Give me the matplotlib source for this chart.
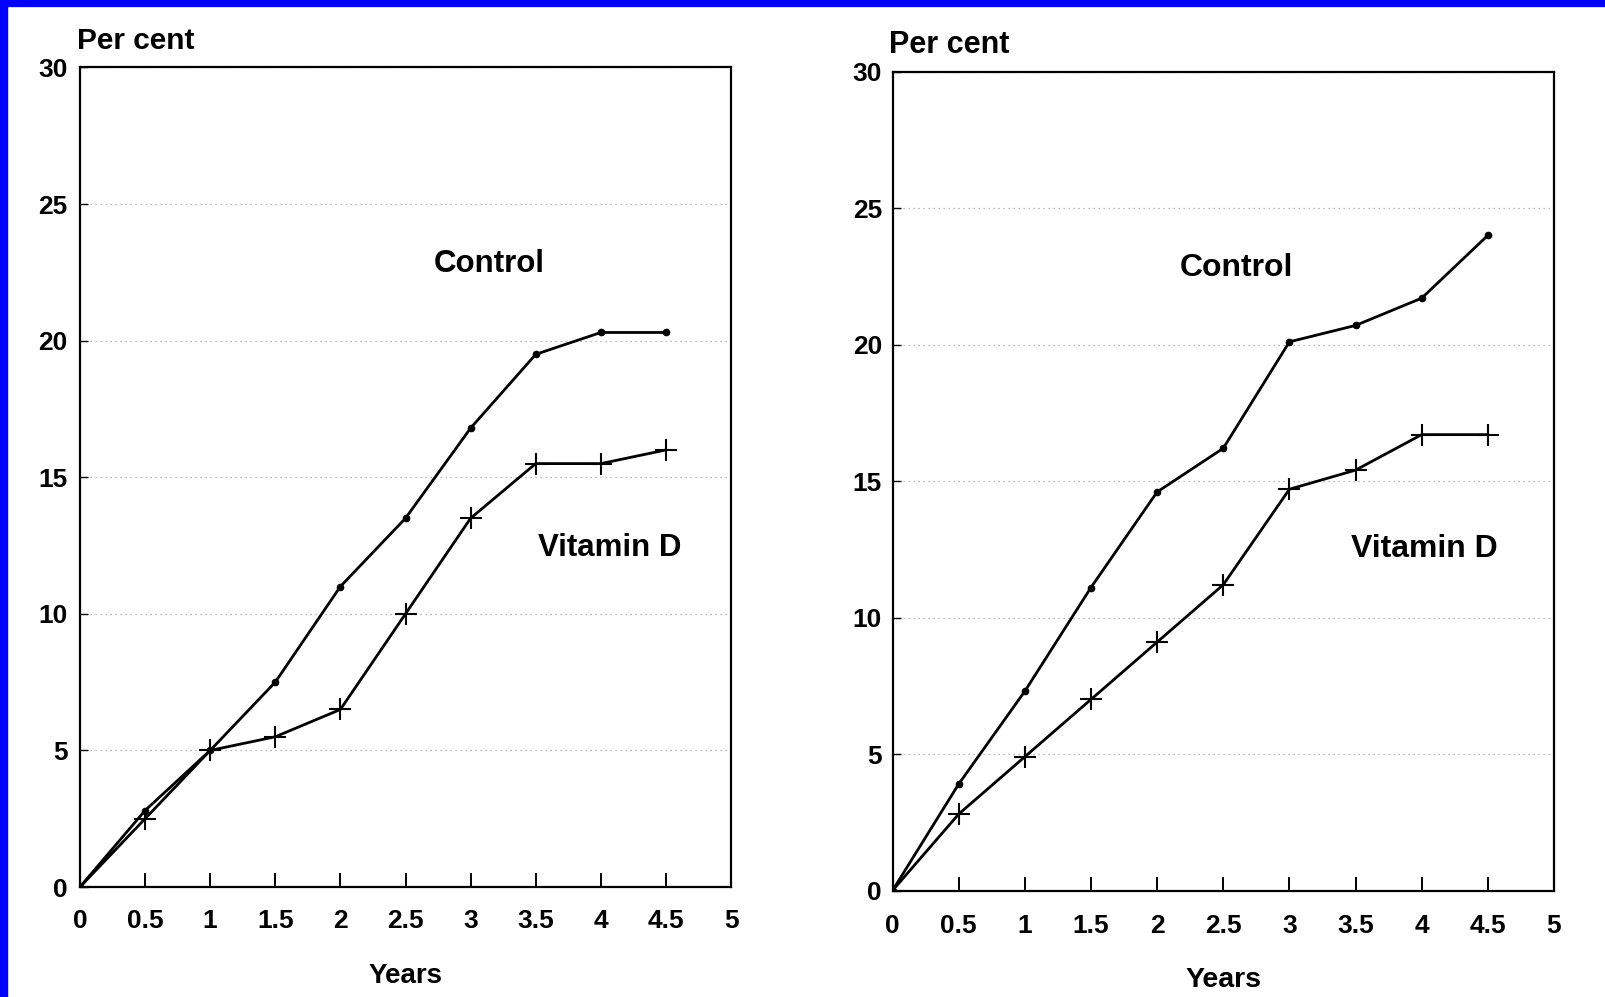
"""Two-panel line chart: cumulative per cent over years, Control vs Vitamin D."""

import matplotlib
matplotlib.use("Agg")
import matplotlib.pyplot as plt
from matplotlib.patches import Rectangle

years = [0, 0.5, 1, 1.5, 2, 2.5, 3, 3.5, 4, 4.5]

left_control = [0, 2.8, 5.0, 7.5, 11.0, 13.5, 16.8, 19.5, 20.3, 20.3]
left_vitd = [0, 2.5, 5.0, 5.5, 6.5, 10.0, 13.5, 15.5, 15.5, 16.0]

right_control = [0, 3.9, 7.3, 11.1, 14.6, 16.2, 20.1, 20.7, 21.7, 24.0]
right_vitd = [0, 2.8, 4.9, 7.0, 9.1, 11.2, 14.7, 15.4, 16.7, 16.7]

x_ticks = [0, 0.5, 1, 1.5, 2, 2.5, 3, 3.5, 4, 4.5, 5]
x_ticklabels = ["0", "0.5", "1", "1.5", "2", "2.5", "3", "3.5", "4", "4.5", "5"]
y_ticks = [0, 5, 10, 15, 20, 25, 30]

FONT = ["Liberation Sans", "DejaVu Sans"]


def draw_panel(ax, control, vitd, sizes, ctrl_pos, vit_pos, xpad, ypad):
    tick_size, name_size, percent_size, years_size = sizes
    ax.plot(years, control, color="black", lw=2.0, marker="o", ms=4.5)
    ax.plot(years, vitd, color="black", lw=2.0, marker="+", ms=16, mew=1.5)

    ax.set_xlim(0, 5)
    ax.set_ylim(0, 30)
    ax.set_xticks(x_ticks)
    ax.set_xticklabels(x_ticklabels)
    ax.set_yticks(y_ticks)
    ax.tick_params(axis="x", direction="in", length=10, width=1.4, pad=xpad,
                   top=False, labelsize=tick_size)
    ax.tick_params(axis="y", direction="in", length=6, width=1.0, pad=ypad,
                   right=False, labelsize=tick_size)
    for lab in ax.get_xticklabels() + ax.get_yticklabels():
        lab.set_family(FONT)
        lab.set_fontweight("bold")
    # no tick marks at the two ends of the x axis in the original
    ax.xaxis.get_major_ticks()[0].tick1line.set_visible(False)
    ax.xaxis.get_major_ticks()[-1].tick1line.set_visible(False)

    for sp in ax.spines.values():
        sp.set_linewidth(1.6)

    ax.grid(axis="y", color="#a8a8a8", linestyle=(0, (1, 3)), lw=0.9)
    ax.set_axisbelow(True)

    ax.text(*ctrl_pos, "Control", ha="center", va="center", fontsize=name_size,
            family=FONT, fontweight="bold")
    ax.text(*vit_pos, "Vitamin D", ha="center", va="center", fontsize=name_size,
            family=FONT, fontweight="bold")

    ax.text(-0.005, 1.023, "Per cent", transform=ax.transAxes, ha="left",
            va="baseline", fontsize=percent_size, family=FONT, fontweight="bold")
    ax.set_xlabel("Years", fontsize=years_size, family=FONT, fontweight="bold")
    ax.xaxis.set_label_coords(0.5, -0.093)


fig = plt.figure(figsize=(16.05, 9.97), dpi=100)
fig.patch.set_facecolor("white")

ax1 = fig.add_axes([0.0498, 0.1103, 0.4057, 0.8220])
ax2 = fig.add_axes([0.5561, 0.1068, 0.4121, 0.8214])

draw_panel(ax1, left_control, left_vitd, (19, 22.5, 21.5, 20),
           (3.14, 22.8), (4.07, 12.4), 16, 9)
draw_panel(ax2, right_control, right_vitd, (19, 23, 22, 20.5),
           (2.6, 22.8), (4.02, 12.5), 17, 7.5)

# blue frame on the top and left edges
fig.patches.append(Rectangle((0, 0), 0.0045, 1, transform=fig.transFigure,
                             color="#0000ff", zorder=10))
fig.patches.append(Rectangle((0, 0.994), 1, 0.006, transform=fig.transFigure,
                             color="#0000ff", zorder=10))

fig.savefig("out.png", dpi=100)
